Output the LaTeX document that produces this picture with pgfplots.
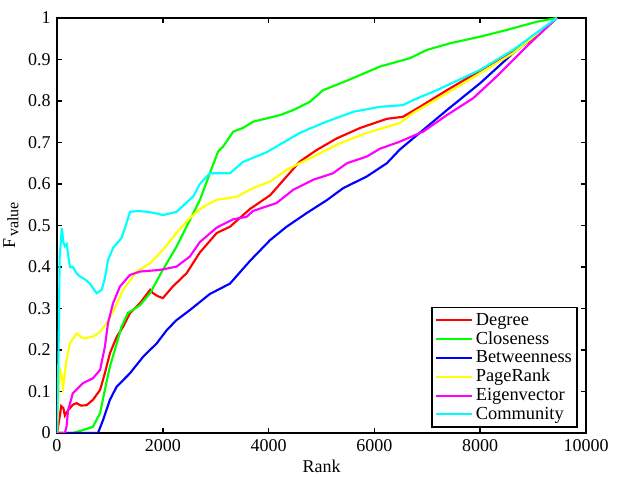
\documentclass[border=0pt]{standalone}
\usepackage{pgfplots}
\pgfplotsset{compat=1.18}
\usepackage{fontspec}
\setmainfont{Liberation Serif}
\definecolor{cgreen}{rgb}{0,1,0}
\definecolor{cyellow}{rgb}{1,1,0}
\definecolor{ccyan}{rgb}{0,1,1}
\definecolor{cmag}{rgb}{1,0,1}
\begin{document}
\fontsize{13.5}{16}\selectfont
\begin{tikzpicture}
\begin{axis}[
  scale only axis, width=396.75pt, height=311.25pt,
  at={(0,0)}, anchor=south west,
  xmin=0, xmax=10000, ymin=0, ymax=1,
  scaled x ticks=false,
  xtick={0,2000,4000,6000,8000,10000},
  ytick={0,0.1,0.2,0.3,0.4,0.5,0.6,0.7,0.8,0.9,1},
  yticklabels={0,0.1,0.2,0.3,0.4,0.5,0.6,0.7,0.8,0.9,1},
  xticklabels={0,2000,4000,6000,8000,10000},
  tick align=inside, xtick pos=both, ytick pos=both,
  major tick length=4pt,
  axis line style={line width=1.3pt},
  every tick/.style={black, line width=1.3pt},
  xlabel={Rank}, ylabel={F\kern1.5pt\raisebox{-2.5pt}{\fontsize{12}{14}\selectfont value}},
  xlabel style={yshift=3pt}, ylabel style={yshift=-2pt},
  every axis plot/.append style={line width=1.6pt},
  legend cell align=left,
  legend style={at={(axis description cs:0.985,0.012)}, anchor=south east,
    draw=black, line width=1.3pt, inner sep=2pt, row sep=-1.2pt, font=\fontsize{13.8}{16}\selectfont},
  legend image code/.code={\draw[#1] (0cm,0cm) -- (0.95cm,0cm);},
]
\addplot[red] coordinates {
(0,0) (40,0.03) (80,0.065) (120,0.06) (150,0.042) (210,0.055) (300,0.068) (370,0.072) (450,0.066) (560,0.067) (680,0.08) (815,0.104) (905,0.144) (1000,0.192) (1130,0.232) (1250,0.256) (1380,0.289) (1570,0.313) (1760,0.345) (1815,0.337) (1900,0.33) (2000,0.325) (2190,0.353) (2450,0.385) (2700,0.435) (3020,0.482) (3270,0.497) (3650,0.54) (4030,0.573) (4340,0.618) (4590,0.654) (4910,0.682) (5290,0.71) (5730,0.735) (6235,0.757) (6540,0.762) (6860,0.786) (7370,0.826) (8000,0.873) (8620,0.92) (9000,0.95) (9450,1.0)
};
\addlegendentry{Degree}
\addplot[cgreen] coordinates {
(0,0) (300,0.0) (490,0.007) (680,0.015) (815,0.048) (905,0.104) (1000,0.16) (1130,0.216) (1220,0.256) (1340,0.289) (1570,0.308) (1760,0.337) (2000,0.393) (2260,0.449) (2510,0.513) (2700,0.561) (2890,0.626) (3045,0.678) (3140,0.69) (3330,0.726) (3515,0.735) (3705,0.75) (4215,0.766) (4465,0.778) (4780,0.798) (5030,0.826) (5500,0.85) (6105,0.883) (6670,0.903) (6990,0.923) (7430,0.939) (8000,0.955) (8500,0.971) (9070,0.991) (9450,1.0)
};
\addlegendentry{Closeness}
\addplot[blue] coordinates {
(0,0) (775,0) (870,0.031) (1000,0.08) (1130,0.112) (1380,0.144) (1630,0.184) (1885,0.216) (2075,0.248) (2260,0.272) (2510,0.296) (2890,0.335) (3270,0.36) (3650,0.415) (4030,0.465) (4340,0.497) (4720,0.53) (5100,0.561) (5410,0.59) (5855,0.618) (6235,0.65) (6480,0.683) (6920,0.73) (7370,0.778) (8000,0.843) (8620,0.915) (9450,1.0)
};
\addlegendentry{Betweenness}
\addplot[cyellow] coordinates {
(0,0) (30,0.1) (60,0.15) (90,0.136) (115,0.11) (180,0.176) (245,0.216) (370,0.24) (490,0.228) (680,0.232) (815,0.244) (940,0.265) (1060,0.292) (1250,0.345) (1505,0.389) (1760,0.409) (2000,0.441) (2260,0.482) (2510,0.518) (2760,0.545) (3020,0.562) (3395,0.569) (3705,0.59) (4030,0.606) (4340,0.634) (4590,0.65) (4970,0.674) (5350,0.698) (5855,0.723) (6480,0.747) (6730,0.771) (7370,0.819) (8000,0.867) (8620,0.915) (9450,1.0)
};
\addlegendentry{PageRank}
\addplot[cmag] coordinates {
(0,0) (150,0) (180,0.015) (210,0.055) (300,0.096) (490,0.12) (680,0.132) (815,0.152) (905,0.208) (965,0.265) (1060,0.313) (1190,0.353) (1380,0.381) (1570,0.389) (1950,0.393) (2260,0.401) (2510,0.425) (2700,0.46) (3020,0.495) (3330,0.515) (3585,0.521) (3705,0.535) (4150,0.554) (4465,0.586) (4840,0.61) (5220,0.626) (5480,0.65) (5855,0.666) (6105,0.685) (6480,0.702) (6920,0.726) (7370,0.766) (7870,0.807) (8310,0.859) (8940,0.939) (9450,1.0)
};
\addlegendentry{Eigenvector}
\addplot[ccyan] coordinates {
(0,0) (30,0.2) (50,0.42) (90,0.494) (120,0.46) (150,0.45) (185,0.455) (220,0.42) (245,0.40) (300,0.40) (370,0.385) (435,0.377) (530,0.37) (624,0.36) (700,0.345) (750,0.337) (845,0.345) (900,0.37) (965,0.417) (1060,0.446) (1220,0.47) (1300,0.5) (1380,0.533) (1530,0.535) (1695,0.533) (1850,0.53) (2005,0.525) (2260,0.533) (2575,0.57) (2700,0.6) (2890,0.626) (3270,0.626) (3515,0.653) (3970,0.677) (4590,0.723) (5030,0.747) (5600,0.774) (6105,0.786) (6540,0.79) (6730,0.802) (7180,0.826) (8000,0.875) (8620,0.923) (9450,1.0)
};
\addlegendentry{Community}
\end{axis}
\pgfresetboundingbox
\useasboundingbox (-42.75pt,-33pt) rectangle (420.75pt,324.75pt);
\end{tikzpicture}
\end{document}
